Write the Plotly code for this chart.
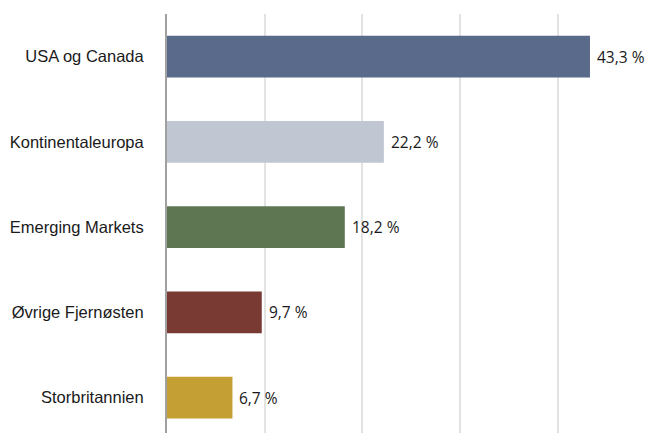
import plotly.graph_objects as go

categories = ["USA og Canada", "Kontinentaleuropa", "Emerging Markets", "Øvrige Fjernøsten", "Storbritannien"]
values = [43.3, 22.2, 18.2, 9.7, 6.7]
value_labels = ["43,3 %", "22,2 %", "18,2 %", "9,7 %", "6,7 %"]
colors = ["#5A6A8B", "#C0C6D2", "#5E7652", "#793A34", "#C49F33"]

fig = go.Figure()
fig.add_trace(go.Bar(
    x=values, y=categories, orientation="h",
    marker=dict(color=colors, line=dict(width=0)),
    width=0.49, hoverinfo="skip",
))

for v, c, t in zip(values, categories, value_labels):
    fig.add_annotation(x=v, y=c, text=t, showarrow=False, xanchor="left",
                       yanchor="middle", xshift=5,
                       font=dict(family="Open Sans", size=15.5, color="#1a1a1a"))

fig.update_layout(
    width=645, height=425,
    margin=dict(l=159, r=0, t=6, b=0),
    paper_bgcolor="white", plot_bgcolor="white",
    showlegend=False,
    xaxis=dict(range=[0, 49.75], dtick=10, showgrid=True, gridcolor="#E3E3E3",
               gridwidth=1.5, showticklabels=False, zeroline=False,
               showline=False, ticks=""),
    yaxis=dict(range=[4.415, -0.5], type="category", showgrid=False,
               showline=True, linecolor="#A0A0A0", linewidth=2,
               ticks="outside", ticklen=18, tickcolor="rgba(0,0,0,0)",
               tickfont=dict(family="Liberation Sans, Arial", size=16.5, color="#1a1a1a")),
)

fig.write_html("out.html")
